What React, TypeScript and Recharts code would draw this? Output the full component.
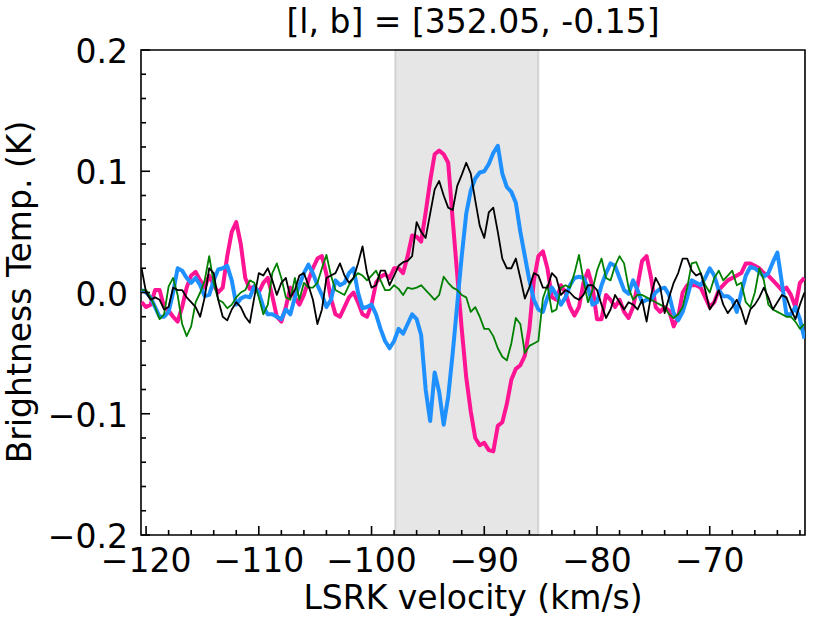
import React from 'react';
import { LineChart, Line, XAxis, YAxis, ReferenceArea } from 'recharts';

// spectrum channel grid (km/s)
const V_START = -120.4;
const V_STEP = 0.4;
const N_CHAN = 148;
const VELOCITY = Array.from({ length: N_CHAN }, (_, i) => +(V_START + i * V_STEP).toFixed(2));

// brightness temperature (K)
const PINK = [
  -0.008, -0.012, -0.010, 0.002, 0.002, -0.012, -0.015, -0.020, -0.024, -0.012,
  0.004, 0.014, 0.017, 0.010, 0.004, 0.014, 0.006, 0.000, 0.004, 0.030,
  0.050, 0.058, 0.040, 0.012, 0.003, 0.005, 0.000, 0.008, 0.012, -0.003,
  -0.020, -0.024, -0.012, 0.004, -0.004, -0.010, -0.002, 0.010, 0.020, 0.028,
  0.030, 0.015, -0.005, -0.018, -0.020, -0.012, -0.004, 0.000, -0.008, -0.018,
  -0.020, -0.010, 0.008, 0.013, 0.015, 0.012, 0.020, 0.020, 0.016, 0.030,
  0.047, 0.046, 0.042, 0.066, 0.092, 0.114, 0.117, 0.114, 0.107, 0.060,
  0.015, -0.030, -0.070, -0.098, -0.120, -0.126, -0.124, -0.130, -0.131, -0.110,
  -0.107, -0.092, -0.072, -0.063, -0.060, -0.052, -0.030, 0.010, 0.030, 0.034,
  0.020, -0.004, -0.006, 0.006, 0.000, -0.012, -0.019, -0.012, 0.008, 0.018,
  0.005, -0.022, -0.022, -0.002, -0.006, -0.012, -0.006, -0.016, -0.021, -0.012,
  0.006, 0.026, 0.030, 0.012, -0.012, -0.016, -0.012, -0.015, -0.028, -0.020,
  0.000, 0.006, 0.006, 0.006, 0.004, -0.004, -0.012, -0.008, 0.002, 0.006,
  0.010, 0.012, 0.014, 0.016, 0.024, 0.024, 0.022, 0.020, 0.016, 0.014,
  0.010, 0.006, 0.002, 0.004, -0.002, -0.012, 0.008, 0.012,
];

const BLUE = [
  0.002, 0.000, -0.004, -0.012, -0.020, -0.020, -0.016, 0.000, 0.020, 0.018,
  0.012, 0.008, 0.012, 0.006, -0.003, -0.002, 0.010, 0.019, 0.020, 0.022,
  0.010, -0.010, -0.005, -0.003, -0.004, 0.005, 0.000, -0.012, -0.018, -0.018,
  -0.020, -0.022, -0.014, -0.018, -0.004, 0.006, 0.016, 0.023, 0.016, 0.006,
  -0.002, -0.012, -0.006, 0.010, 0.006, 0.008, 0.016, 0.020, 0.000, -0.013,
  -0.012, -0.010, -0.018, -0.030, -0.040, -0.046, -0.040, -0.030, -0.034, -0.026,
  -0.018, -0.022, -0.035, -0.080, -0.106, -0.066, -0.082, -0.109, -0.086, -0.050,
  -0.010, 0.030, 0.065, 0.084, 0.094, 0.099, 0.100, 0.106, 0.115, 0.121,
  0.098, 0.087, 0.083, 0.074, 0.050, 0.030, 0.010, -0.006, -0.014, -0.016,
  -0.004, 0.004, -0.002, -0.010, -0.004, 0.006, 0.012, 0.013, 0.012, 0.004,
  -0.010, -0.008, 0.006, 0.016, 0.024, 0.022, 0.012, 0.002, -0.001, 0.010,
  0.002, -0.008, -0.006, -0.006, 0.000, 0.003, 0.004, -0.002, -0.017, -0.023,
  -0.016, -0.004, 0.010, 0.008, 0.006, 0.012, 0.020, 0.014, 0.002, -0.003,
  -0.003, -0.006, -0.016, 0.000, 0.014, 0.021, 0.020, 0.017, 0.013, 0.016,
  0.025, 0.033, 0.008, -0.018, -0.018, -0.012, -0.022, -0.038,
];

const GREEN = [
  0.002, 0.002, -0.004, -0.012, -0.022, -0.018, 0.005, 0.012, -0.002, -0.026,
  -0.036, -0.028, -0.008, 0.000, 0.010, 0.030, 0.008, -0.006, -0.008, -0.013,
  -0.010, -0.004, 0.000, 0.002, 0.010, 0.008, -0.004, -0.018, -0.010, 0.016,
  0.024, 0.012, -0.004, -0.006, 0.012, -0.006, 0.008, 0.004, 0.004, 0.008,
  0.020, 0.031, 0.014, 0.002, 0.000, -0.002, 0.006, 0.012, 0.016, 0.014,
  0.010, 0.014, 0.018, 0.010, 0.002, 0.002, 0.006, 0.003, -0.002, 0.004,
  0.003, 0.004, 0.006, 0.002, -0.002, -0.006, -0.002, 0.013, 0.008, 0.004,
  0.002, -0.002, -0.004, -0.016, -0.012, -0.020, -0.030, -0.030, -0.036, -0.046,
  -0.053, -0.056, -0.042, -0.021, -0.026, -0.050, -0.044, -0.042, -0.040, -0.005,
  0.006, -0.016, -0.014, 0.004, 0.006, 0.004, 0.016, 0.031, 0.010, -0.008,
  0.002, 0.018, 0.028, 0.012, 0.010, 0.022, 0.030, 0.024, 0.004, -0.006,
  -0.002, -0.002, -0.004, -0.006, -0.008, -0.010, -0.012, -0.018, -0.021, -0.018,
  -0.012, 0.004, 0.024, 0.025, 0.016, 0.006, 0.000, 0.012, 0.018, 0.010,
  0.014, 0.018, 0.006, 0.008, -0.008, -0.012, 0.000, 0.020, 0.010, -0.010,
  -0.014, -0.016, -0.018, -0.020, -0.020, -0.024, -0.030, -0.026,
];

const BLACK = [
  0.020, 0.000, -0.006, -0.004, -0.006, -0.014, -0.012, 0.004, 0.002, 0.002,
  -0.004, -0.008, -0.012, -0.020, -0.004, 0.020, 0.016, -0.006, -0.020, -0.023,
  -0.014, -0.008, -0.012, -0.020, -0.025, -0.004, 0.016, 0.014, 0.020, 0.010,
  -0.002, 0.008, 0.012, -0.004, 0.002, 0.014, 0.016, 0.006, -0.006, -0.026,
  -0.014, 0.012, 0.014, 0.016, 0.024, 0.014, 0.008, 0.012, 0.024, 0.038,
  0.016, 0.004, 0.006, 0.018, 0.018, 0.006, 0.014, 0.022, 0.025, 0.026,
  0.030, 0.058, 0.050, 0.045, 0.065, 0.085, 0.092, 0.080, 0.070, 0.068,
  0.088, 0.097, 0.107, 0.098, 0.076, 0.055, 0.045, 0.066, 0.070, 0.050,
  0.028, 0.020, 0.020, 0.028, 0.012, -0.005, 0.004, 0.016, 0.014, 0.004,
  0.004, 0.016, 0.012, -0.002, 0.002, 0.000, -0.004, -0.006, -0.002, 0.006,
  0.006, 0.002, -0.010, -0.021, -0.014, -0.002, -0.008, -0.014, -0.008, -0.010,
  -0.014, -0.006, -0.024, -0.002, 0.012, 0.005, -0.017, -0.004, 0.008, 0.016,
  0.028, 0.028, 0.018, 0.014, 0.016, 0.002, -0.014, -0.008, 0.002, -0.010,
  -0.017, -0.012, -0.006, -0.014, -0.026, -0.014, -0.010, -0.004, 0.004, -0.004,
  -0.014, -0.008, -0.002, -0.004, -0.014, -0.022, -0.010, 0.000,
];

// shaded velocity window
const WINDOW = [-97.9, -85.2];

const X_DOMAIN = [-120.45, -61.55];
const Y_DOMAIN = [-0.2, 0.2];
const X_TICKS = [
  -120, -118, -116, -114, -112, -110, -108, -106, -104, -102, -100, -98, -96, -94, -92,
  -90, -88, -86, -84, -82, -80, -78, -76, -74, -72, -70, -68, -66, -64, -62,
];
const Y_TICKS = [
  -0.2, -0.18, -0.16, -0.14, -0.12, -0.1, -0.08, -0.06, -0.04, -0.02, 0,
  0.02, 0.04, 0.06, 0.08, 0.1, 0.12, 0.14, 0.16, 0.18, 0.2,
];

const TITLE = '[l, b] = [352.05, -0.15]';
const X_LABEL = 'LSRK velocity (km/s)';
const Y_LABEL = 'Brightness Temp. (K)';

const W = 830;
const H = 623;
const X_AXIS_H = 40;
const Y_AXIS_W = 60;
// plot box: x 141..805, y 50..535
const M = { top: 50, right: 25, bottom: 88 - X_AXIS_H, left: 141 - Y_AXIS_W };
const PLOT_LEFT = 141;
const PLOT_BOTTOM = 535;
const FONT = '"DejaVu Sans", sans-serif';
const FS = 33;

const minus = (s: string) => s.replace('-', '\u2212');

const renderXTick = (props: any) => {
  const { x, payload } = props;
  const v = payload.value;
  const major = Math.round(v) % 10 === 0;
  return (
    <g key={`xt-${v}`}>
      <line x1={x} x2={x} y1={PLOT_BOTTOM} y2={PLOT_BOTTOM - (major ? 9 : 5)} stroke="#000" strokeWidth={1.6} />
      {major && (
        <text x={x} y={PLOT_BOTTOM + 37} textAnchor="middle" fontFamily={FONT} fontSize={FS} fill="#000">
          {minus(String(v))}
        </text>
      )}
    </g>
  );
};

const renderYTick = (props: any) => {
  const { y, payload } = props;
  const v = payload.value;
  const major = Math.abs(Math.round(v * 100)) % 10 === 0;
  return (
    <g key={`yt-${v}`}>
      <line x1={PLOT_LEFT} x2={PLOT_LEFT + (major ? 9 : 5)} y1={y} y2={y} stroke="#000" strokeWidth={1.6} />
      {major && (
        <text x={PLOT_LEFT - 13} y={y + 13} textAnchor="end" fontFamily={FONT} fontSize={FS} fill="#000">
          {minus(v.toFixed(1))}
        </text>
      )}
    </g>
  );
};

export default function App() {
  const rows = VELOCITY.map((v, i) => ({
    v,
    pink: PINK[i],
    blue: BLUE[i],
    green: GREEN[i],
    black: BLACK[i],
  }));

  return (
    <div style={{ position: 'absolute', left: 0, top: 0, width: W, height: H, background: '#fff' }}>
      <LineChart width={W} height={H} data={rows} margin={M}>
        <XAxis
          dataKey="v"
          type="number"
          domain={X_DOMAIN}
          ticks={X_TICKS}
          interval={0}
          tick={renderXTick}
          tickLine={false}
          axisLine={false}
          height={X_AXIS_H}
          allowDataOverflow
        />
        <YAxis
          type="number"
          domain={Y_DOMAIN}
          ticks={Y_TICKS}
          interval={0}
          tick={renderYTick}
          tickLine={false}
          axisLine={false}
          width={Y_AXIS_W}
          allowDataOverflow
        />
        <ReferenceArea
          x1={WINDOW[0]}
          x2={WINDOW[1]}
          fill="#808080"
          fillOpacity={0.2}
          stroke="#808080"
          strokeOpacity={0.25}
          strokeWidth={2}
        />
        <Line dataKey="pink" type="linear" stroke="#ff1493" strokeWidth={4} dot={false} isAnimationActive={false} strokeLinejoin="round" />
        <Line dataKey="blue" type="linear" stroke="#1e90ff" strokeWidth={4} dot={false} isAnimationActive={false} strokeLinejoin="round" />
        <Line dataKey="green" type="linear" stroke="#008000" strokeWidth={1.8} dot={false} isAnimationActive={false} strokeLinejoin="round" />
        <Line dataKey="black" type="linear" stroke="#000000" strokeWidth={1.8} dot={false} isAnimationActive={false} strokeLinejoin="round" />
        <ReferenceArea
          x1={X_DOMAIN[0]}
          x2={X_DOMAIN[1]}
          fill="none"
          stroke="#000"
          strokeWidth={1.6}
        />
      </LineChart>
      <svg width={W} height={H} style={{ position: 'absolute', left: 0, top: 0, pointerEvents: 'none' }}>
        <text x={473} y={33} textAnchor="middle" fontFamily={FONT} fontSize={FS} fill="#000">{TITLE}</text>
        <text x={473} y={609} textAnchor="middle" fontFamily={FONT} fontSize={FS} fill="#000">{X_LABEL}</text>
        <text transform="rotate(-90)" x={-292} y={31} textAnchor="middle" fontFamily={FONT} fontSize={FS} fill="#000">{Y_LABEL}</text>
      </svg>
    </div>
  );
}
